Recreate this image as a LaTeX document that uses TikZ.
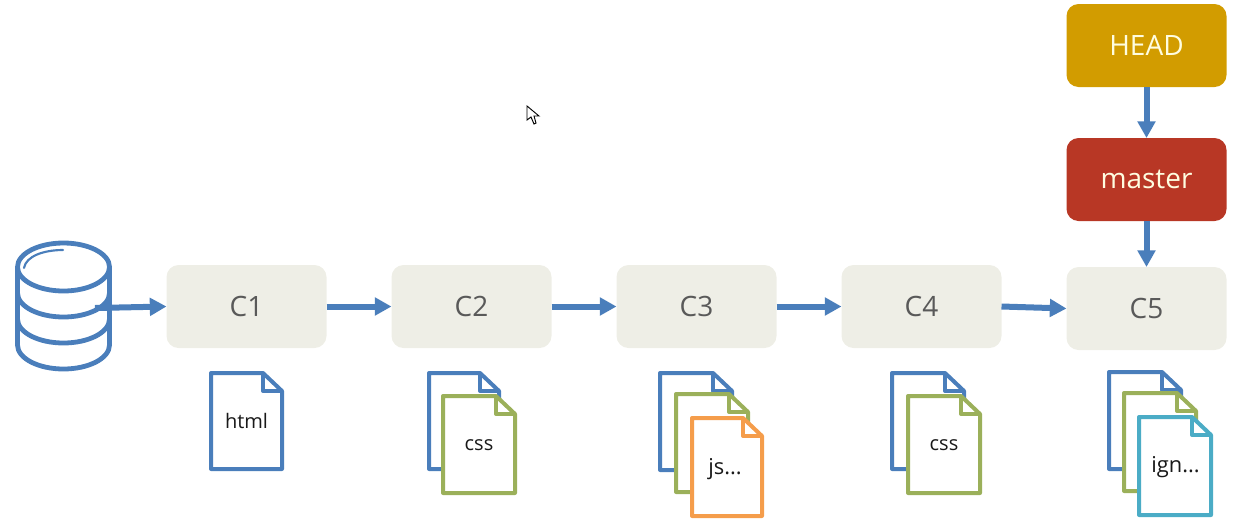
\documentclass[tikz,border=0pt]{standalone}
\usepackage{fontspec}
\setmainfont{Open Sans}
\usetikzlibrary{arrows.meta,positioning}

\definecolor{linkblue}{HTML}{4A7EBB}
\definecolor{docgreen}{HTML}{9BB05A}
\definecolor{docorange}{HTML}{F59D4B}
\definecolor{doccyan}{HTML}{4BACC6}
\definecolor{headgold}{HTML}{D29C00}
\definecolor{masterred}{HTML}{B83725}
\definecolor{commitgrey}{HTML}{EEEEE6}

\tikzset{
  box/.style={rounded corners=9pt,minimum width=120pt,minimum height=62.25pt,inner sep=0pt,outer sep=0pt,
    font=\fontsize{21}{25}\selectfont},
  commit/.style={box,fill=commitgrey,text=black!65},
  ref/.style={box,text=white!88!yellow},
  link/.style={draw=linkblue,line width=4.5pt,-{Triangle[length=12.5pt,width=13pt]}},
  dbline/.style={draw=linkblue,line width=3.6pt},
  docname/.style={font=\fontsize{15}{18}\selectfont,text=black!90,inner sep=0pt},
  docnamewide/.style={docname,font=\fontsize{16.4}{18}\selectfont},
}

% one sheet: left, top, right, bottom and colour
\newcommand{\sheet}[5]{
  \draw[line width=3pt,line join=round,draw=#5,fill=white]
    (#1,#2) -- (#3-19,#2) -- (#3,#2+18) -- (#3,#4) -- (#1,#4) -- cycle;
  \draw[line width=3pt,line join=round,draw=#5]
    (#3-19,#2) -- (#3-19,#2+18) -- (#3,#2+18);
}

\begin{document}
\begin{tikzpicture}[x=0.75pt,y=-0.75pt]
  \useasboundingbox (0,0) rectangle (1238,522);

  % database
  \draw[dbline] (63.5,267) ellipse (46 and 24);
  \draw[dbline] (17.5,267) -- (17.5,345) arc (180:0:46 and 24) -- (109.5,267);
  \draw[dbline] (17.5,293) arc (180:0:46 and 24);
  \draw[dbline] (17.5,319) arc (180:0:46 and 24);
  \draw[draw=linkblue,line width=1.6pt,line cap=round] (24,268) .. controls (26,256) and (44,250) .. (63,250);
  \coordinate (dbout) at (95,308);

  % commits
  \node[commit] (c1) at (246.5,306.5) {C1};
  \node[commit,right=48.75pt of c1] (c2) {C2};
  \node[commit,right=48.75pt of c2] (c3) {C3};
  \node[commit,right=48.75pt of c3] (c4) {C4};
  \node[commit,right=48.75pt of c4,yshift=-1.5pt] (c5) {C5};
  \node[ref,fill=masterred,above=34.5pt of c5] (master) {master};
  \node[ref,fill=headgold,above=38.25pt of master] (head) {HEAD};

  \draw[link] (dbout) -- (c1.west);
  \draw[link] (c1) -- (c2);
  \draw[link] (c2) -- (c3);
  \draw[link] (c3) -- (c4);
  \draw[link] (c4.east) -- (c5.west);
  \draw[link] (head) -- (master);
  \draw[link] (master) -- (c5);

  % files of each commit
  \sheet{211}{373}{282}{469}{linkblue}
  \node[docname] (html) at (246.5,421) {html};

  \sheet{429}{373}{499}{469}{linkblue}
  \sheet{443}{396}{515}{493}{docgreen}
  \node[docname] (cssa) at (479,445) {css};

  \sheet{660}{373}{732}{470}{linkblue}
  \sheet{676}{394}{748}{492}{docgreen}
  \sheet{692}{418}{762}{516}{docorange}
  \node[docnamewide] (js) at (725,469) {js...};

  \sheet{892}{373}{964}{469}{linkblue}
  \sheet{908}{396}{980}{493}{docgreen}
  \node[docname] (cssb) at (944,445) {css};

  \sheet{1109}{372}{1181}{469}{linkblue}
  \sheet{1124}{393}{1196}{491}{docgreen}
  \sheet{1139}{417}{1211}{515}{doccyan}
  \node[docnamewide] (ign) at (1175.5,467) {ign...};

  % mouse pointer
  \draw[line width=0.7pt,fill=white] (527,106) -- (527,120) -- (531,117) -- (534,124) -- (536,123) -- (534,116) -- (539,116) -- cycle;
\end{tikzpicture}
\end{document}
